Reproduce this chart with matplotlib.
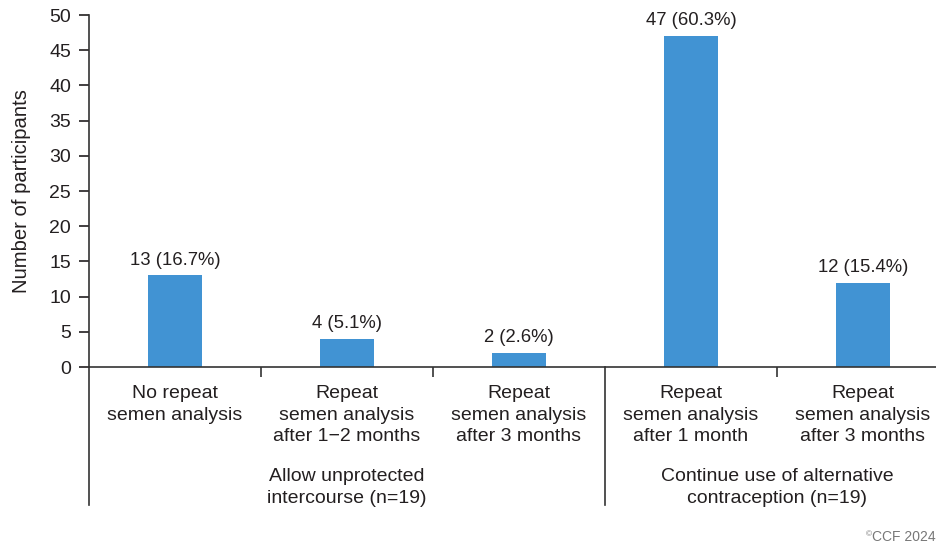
import matplotlib
matplotlib.use("Agg")
import matplotlib.pyplot as plt
import matplotlib.transforms as mtransforms
from matplotlib.lines import Line2D

plt.rcParams['font.family'] = ['Liberation Sans', 'DejaVu Sans']

categories = [
    "No repeat\nsemen analysis",
    "Repeat\nsemen analysis\nafter 1\u22122 months",
    "Repeat\nsemen analysis\nafter 3 months",
    "Repeat\nsemen analysis\nafter 1 month",
    "Repeat\nsemen analysis\nafter 3 months",
]
values = [13, 4, 2, 47, 12]
value_labels = ["13 (16.7%)", "4 (5.1%)", "2 (2.6%)", "47 (60.3%)", "12 (15.4%)"]
groups = ["Allow unprotected\nintercourse (n=19)", "Continue use of alternative\ncontraception (n=19)"]
group_centers = [1.0, 3.5]
yticks = [0, 5, 10, 15, 20, 25, 30, 35, 40, 45, 50]

TXT = '#231F20'
BAR = '#4193D3'
FS = 14

fig = plt.figure(figsize=(9.37, 5.47), dpi=100)
W, H = 937, 547
ax_left, ax_bottom_px, ax_top_px = 89, 367, 15
ax_w = 860
ax = fig.add_axes([ax_left / W, (H - ax_bottom_px) / H, ax_w / W, (ax_bottom_px - ax_top_px) / H])

x = list(range(len(values)))
ax.bar(x, values, width=0.31, color=BAR, zorder=2)
ax.set_xlim(-0.5, 4.5)
ax.set_ylim(0, 50)
ax.set_yticks(yticks)
ax.tick_params(axis='y', length=7, width=1.2, direction='out', pad=6, labelsize=FS, colors=TXT)
ax.set_xticks([0.5, 1.5, 3.5])
ax.set_xticklabels([])
ax.tick_params(axis='x', length=7, width=1.2, direction='out', colors='#333333')
for s in ['top', 'right']:
    ax.spines[s].set_visible(False)
for s in ['left', 'bottom']:
    ax.spines[s].set_linewidth(1.2)
    ax.spines[s].set_color('#333333')

ax.set_ylabel("Number of participants", fontsize=14.6, color=TXT, labelpad=13)

for xi, v, lab in zip(x, values, value_labels):
    ax.annotate(lab, (xi, v), xytext=(0, 5), textcoords='offset points',
                ha='center', va='bottom', fontsize=13.3, color=TXT)

blend = mtransforms.blended_transform_factory(ax.transData, ax.transAxes)
ext = -(505 - 367) / (367 - 15)

# extended left spine and group separator
ax.add_line(Line2D([-0.5, -0.5], [0, ext], transform=blend, color='#333333', lw=1.2, clip_on=False))
ax.add_line(Line2D([2.5, 2.5], [0, ext], transform=blend, color='#333333', lw=1.2, clip_on=False))

for xi, c in zip(x, categories):
    ax.text(xi, -(385 - 367) / 352, c, transform=blend, ha='center', va='top',
            fontsize=FS, color=TXT, linespacing=1.35)

for gc, g in zip(group_centers, groups):
    ax.text(gc, -(468 - 367) / 352, g, transform=blend, ha='center', va='top',
            fontsize=FS, color=TXT, linespacing=1.35)

fig.text(866 / W, 1 - 535 / H, "\u00a9", ha='left', va='center', fontsize=6, color='#777777')
fig.text(872 / W, 1 - 537 / H, "CCF 2024", ha='left', va='center', fontsize=10, color='#777777')

fig.savefig("out.png", dpi=100)
